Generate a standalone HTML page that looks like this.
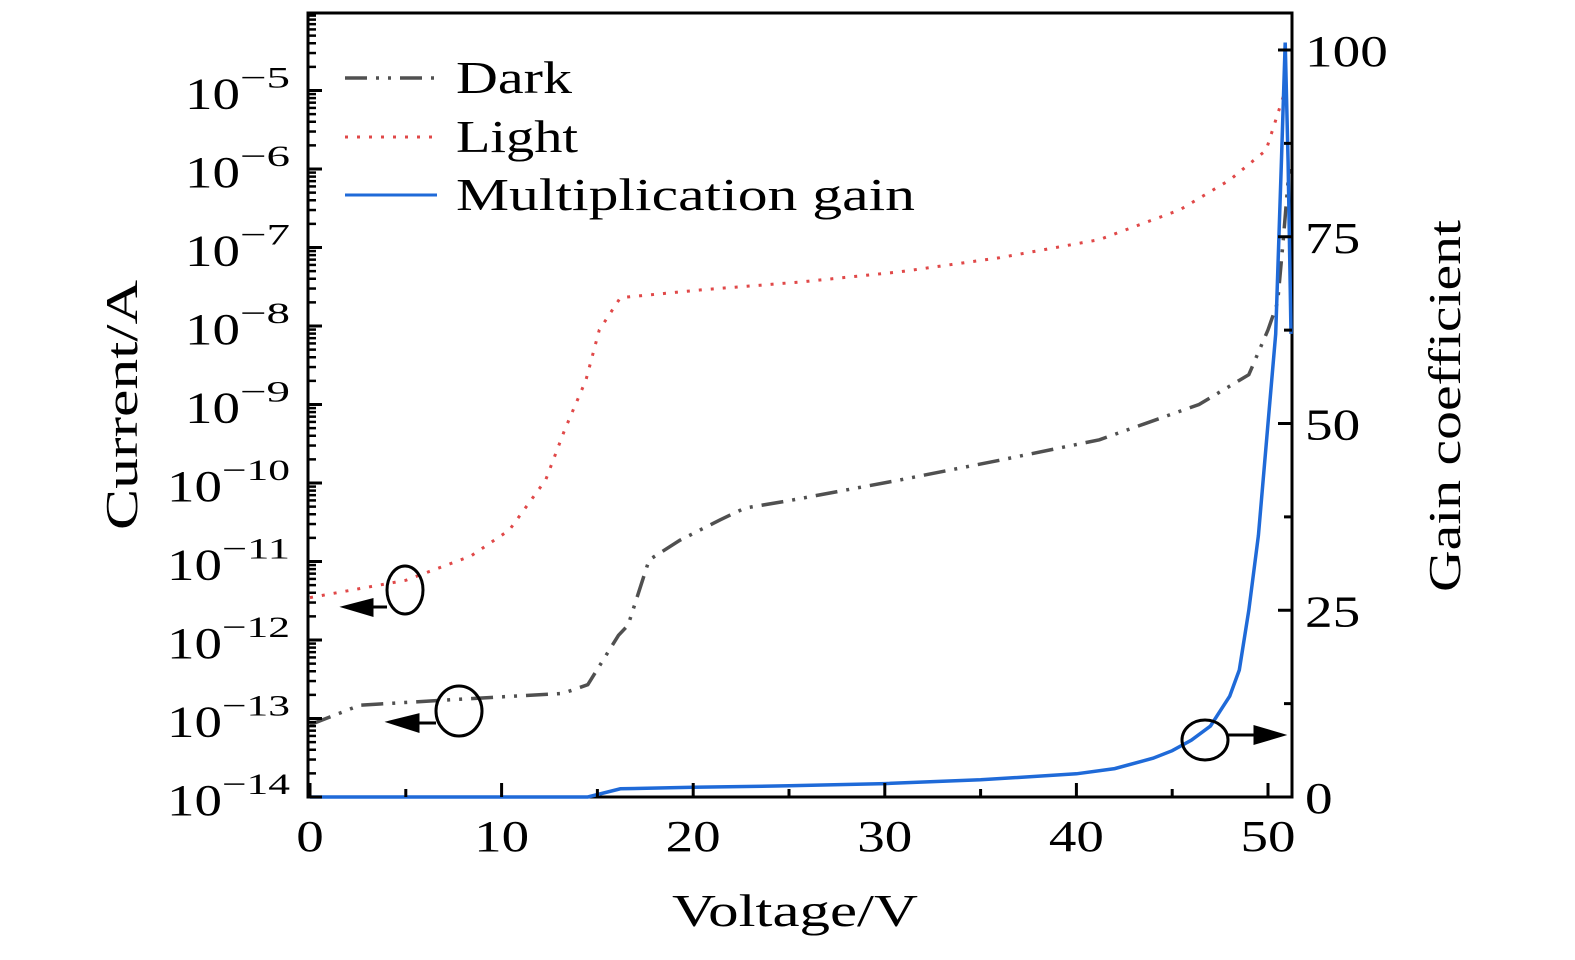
<!DOCTYPE html>
<html><head><meta charset="utf-8"><style>
body{margin:0;background:#fff}
text{font-family:"Liberation Serif",serif;fill:#000}
</style></head><body>
<svg id="chart" width="1575" height="955" xmlns="http://www.w3.org/2000/svg">
<g id="g"></g>
</svg>
<script>
const xTicks=[0,10,20,30,40,50];
const logTicks=[-14,-13,-12,-11,-10,-9,-8,-7,-6,-5];
const gainTicks=[0,25,50,75,100];
const darkV=[0,2.6,7.4,13.2,14.5,16.1,16.6,17.7,19.3,21.4,22.7,25.1,30.8,36,41.2,46.4,49,50,50.5,50.8,51.1];
const darkLog=[-13.08,-12.83,-12.76,-12.68,-12.57,-11.94,-11.81,-10.98,-10.73,-10.47,-10.32,-10.22,-9.96,-9.71,-9.45,-9.0,-8.62,-8.05,-7.7,-6.9,-6.0];
const lightV=[0,5,8.4,10.4,12.3,13.3,14.4,15.1,16.2,20.4,25.6,30.8,36,41.2,45.4,48,49.9,50.9];
const lightLog=[-11.46,-11.24,-10.93,-10.6,-9.96,-9.32,-8.69,-8.05,-7.64,-7.54,-7.44,-7.31,-7.13,-6.9,-6.52,-6.14,-5.76,-5.0];
const gainV=[0,14.5,16.2,20,25,30,35,40,42,44,45,46,47,47.5,48,48.5,49,49.5,50,50.4,50.7,50.9,51.05,51.2];
const gainVal=[0,0,1.1,1.3,1.5,1.8,2.3,3.1,3.8,5.2,6.2,7.6,9.5,11.5,13.5,17,25,35,50,62,85,101,85,62];

const L=308,R=1292,T=13,B=797;
const X=v=>310+v*19.16;
const YL=l=>797-(l+14)*78.5;
const YR=g=>797-g*7.47;
const NS="http://www.w3.org/2000/svg";
const g=document.getElementById('g');
function el(tag,attrs,parent){const e=document.createElementNS(NS,tag);for(const k in attrs)e.setAttribute(k,attrs[k]);(parent||g).appendChild(e);return e;}

function series(vs,ys,fy,attrs,name){
  const d=vs.map((v,i)=>(i?'L':'M')+X(v).toFixed(1)+' '+fy(ys[i]).toFixed(1)).join(' ');
  const p=el('path',Object.assign({d:d,fill:'none'},attrs));
  
  
}
series(lightV,lightLog,YL,{stroke:'#e04848','stroke-width':3,'stroke-dasharray':'3 9'},'light-current-line');
series(darkV,darkLog,YL,{stroke:'#505050','stroke-width':3.5,'stroke-dasharray':'22 9 3 9 3 9'},'dark-current-line');

const fr=el('rect',{x:L,y:T,width:R-L,height:B-T,fill:'none',stroke:'#000','stroke-width':3});



series(gainV,gainVal,YR,{stroke:'#1f6ad8','stroke-width':3.5},'gain-line');

xTicks.forEach(v=>{
  el('line',{x1:X(v),x2:X(v),y1:B,y2:B-14,stroke:'#000','stroke-width':3});
  const s=String(v);
  const t=el('text',{x:X(v),y:B+54,'font-size':44,'text-anchor':'middle',textLength:s.length*27.5,lengthAdjust:'spacingAndGlyphs'});t.textContent=s;
  
  
  if(v<50)el('line',{x1:X(v+5),x2:X(v+5),y1:B,y2:B-8,stroke:'#000','stroke-width':3});
});
logTicks.forEach(l=>{
  const y=YL(l);
  el('line',{x1:L,x2:L+14,y1:y,y2:y,stroke:'#000','stroke-width':3});
  for(let m=2;m<=9;m++){const ym=YL(l+Math.log10(m));if(ym>T)el('line',{x1:L,x2:L+8,y1:ym,y2:ym,stroke:'#000','stroke-width':2.5});}
  const ex='\u2212'+(-l);
  const exW=(-l)>=10?68:50;
  const t=el('text',{x:290-exW-55,y:y+18,'font-size':44,textLength:55,lengthAdjust:'spacingAndGlyphs'});
  
  
  t.textContent='10';
  const s=el('text',{x:290-exW,y:y-3,'font-size':30,textLength:exW,lengthAdjust:'spacingAndGlyphs'});
  s.textContent=ex;
  
  
});
gainTicks.forEach(v=>{
  const y=YR(v);
  el('line',{x1:R,x2:R-14,y1:y,y2:y,stroke:'#000','stroke-width':3});
  if(v<100){const ym=YR(v+12.5);el('line',{x1:R,x2:R-8,y1:ym,y2:ym,stroke:'#000','stroke-width':3});}
  const s=String(v);
  const t=el('text',{x:1305,y:y+16,'font-size':44,textLength:s.length*27.6,lengthAdjust:'spacingAndGlyphs'});t.textContent=s;
  
  
});
</script>
<svg style="position:absolute;left:0;top:0" width="1575" height="955" xmlns="http://www.w3.org/2000/svg">
<text x="672" y="926" font-size="46" textLength="246" lengthAdjust="spacingAndGlyphs">Voltage/V</text>
<text transform="translate(137,530) rotate(-90)" font-size="46" textLength="250" lengthAdjust="spacingAndGlyphs">Current/A</text>
<text transform="translate(1460,592) rotate(-90)" font-size="46" textLength="372" lengthAdjust="spacingAndGlyphs">Gain coefficient</text>
<g>
 <line x1="345" x2="437" y1="78" y2="78" stroke="#505050" stroke-width="3.5" stroke-dasharray="22 9 3 9 3 9"/>
 <text x="456" y="93" font-size="46" textLength="116" lengthAdjust="spacingAndGlyphs">Dark</text>
 <line x1="345" x2="437" y1="137" y2="137" stroke="#e04848" stroke-width="3" stroke-dasharray="3 9"/>
 <text x="456" y="152" font-size="46" textLength="122" lengthAdjust="spacingAndGlyphs">Light</text>
 <line x1="345" x2="437" y1="195" y2="195" stroke="#1f6ad8" stroke-width="3"/>
 <text x="456" y="210" font-size="46" textLength="459" lengthAdjust="spacingAndGlyphs">Multiplication gain</text>
</g>
<g stroke="#000" stroke-width="3" fill="none">
 <ellipse cx="405" cy="590" rx="18" ry="24"/><line x1="387" y1="607" x2="365" y2="607"/>
 <polygon points="345,607 372,600 372,615" fill="#000"/>
</g>
<g stroke="#000" stroke-width="3" fill="none">
 <ellipse cx="459" cy="711" rx="23" ry="25"/><line x1="436" y1="723" x2="410" y2="723"/>
 <polygon points="390,722 418,715 418,731" fill="#000"/>
</g>
<g stroke="#000" stroke-width="3" fill="none">
 <ellipse cx="1205" cy="740" rx="23" ry="20"/><line x1="1228" y1="735" x2="1260" y2="735"/>
 <polygon points="1282,735 1255,727 1255,743" fill="#000"/>
</g>
</svg>
</body></html>
